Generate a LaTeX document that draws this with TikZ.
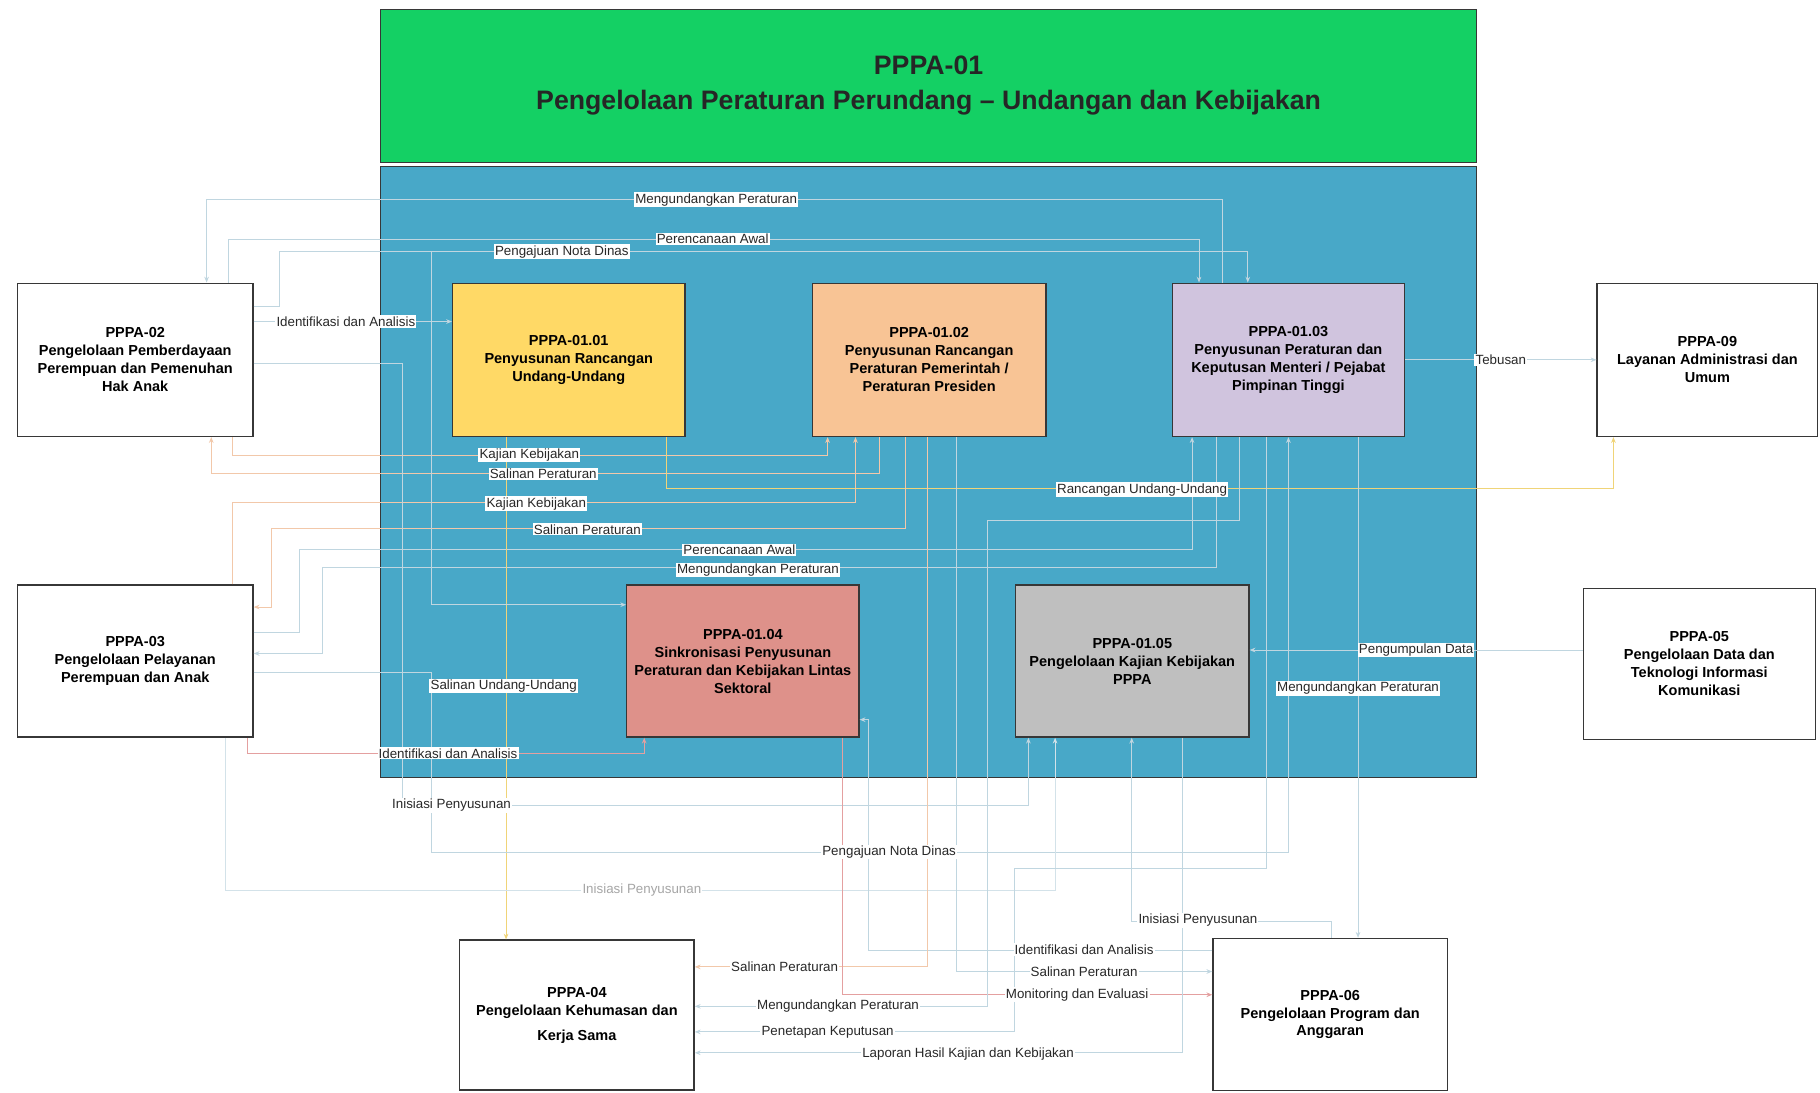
\documentclass[tikz,border=0pt]{standalone}
\usepackage{fontspec}
\setmainfont{Liberation Sans}
\usetikzlibrary{arrows.meta}
\definecolor{hdrgreen}{RGB}{20,208,100}
\definecolor{contblue}{RGB}{72,168,200}
\definecolor{cyellow}{RGB}{255,217,102}
\definecolor{cpeach}{RGB}{248,196,149}
\definecolor{clav}{RGB}{208,196,222}
\definecolor{csalmon}{RGB}{222,145,138}
\definecolor{cgray}{RGB}{191,191,191}
\definecolor{bordc}{RGB}{55,55,55}
\definecolor{lnA}{RGB}{192,214,224}
\definecolor{lnO}{RGB}{242,200,170}
\definecolor{lnY}{RGB}{240,212,120}
\definecolor{lnR}{RGB}{228,160,160}
\definecolor{txtc}{RGB}{40,40,40}
\begin{document}
\begin{tikzpicture}[x=1pt,y=-1pt,
  box/.style={draw=bordc,line width=1.2pt,align=center,inner sep=2pt,
    font=\fontsize{12.5}{15.5}\selectfont\bfseries,text=black},
  conn/.style={line width=0.8pt,-{Stealth[length=5pt,width=4pt]}},
  lbl/.style={fill=white,inner sep=1pt,font=\fontsize{11.5}{12}\selectfont,text=txtc},
  flbl/.style={fill=white,inner sep=1pt,font=\fontsize{11.5}{12}\selectfont,text=black!35}]
\fill[white] (0,0) rectangle (1568,941);
\useasboundingbox (0,0) rectangle (1568,941);

% header and container
\node[draw=bordc,line width=0.8pt,fill=hdrgreen,minimum width=944pt,minimum height=132pt,
  align=center,font=\fontsize{23}{30}\selectfont\bfseries,text=black!85] (hdr) at (800,74)
  {PPPA-01\\Pengelolaan Peraturan Perundang -- Undangan dan Kebijakan};
\node[draw=bordc,line width=0.8pt,fill=contblue,minimum width=944pt,minimum height=527pt] (cont) at (800,406.5) {};

% inner boxes
\node[box,fill=cyellow,minimum width=200pt,minimum height=132pt] (b0101) at (490,310)
  {PPPA-01.01\\Penyusunan Rancangan\\Undang-Undang};
\node[box,fill=cpeach,minimum width=201pt,minimum height=132pt] (b0102) at (800.5,310)
  {PPPA-01.02\\Penyusunan Rancangan\\Peraturan Pemerintah /\\Peraturan Presiden};
\node[box,fill=clav,minimum width=200pt,minimum height=132pt] (b0103) at (1110,310)
  {PPPA-01.03\\Penyusunan Peraturan dan\\Keputusan Menteri / Pejabat\\Pimpinan Tinggi};
\node[box,fill=csalmon,minimum width=200pt,minimum height=131pt] (b0104) at (640,569.5)
  {PPPA-01.04\\Sinkronisasi Penyusunan\\Peraturan dan Kebijakan Lintas\\Sektoral};
\node[box,fill=cgray,minimum width=201pt,minimum height=131pt] (b0105) at (975.5,569.5)
  {PPPA-01.05\\Pengelolaan Kajian Kebijakan\\PPPA};

% outer boxes
\node[box,fill=white,minimum width=203pt,minimum height=132pt] (p02) at (116.5,310)
  {PPPA-02\\Pengelolaan Pemberdayaan\\Perempuan dan Pemenuhan\\Hak Anak};
\node[box,fill=white,minimum width=203pt,minimum height=131pt] (p03) at (116.5,569.5)
  {PPPA-03\\Pengelolaan Pelayanan\\Perempuan dan Anak};
\node[box,fill=white,minimum width=190pt,minimum height=132pt] (p09) at (1471,310)
  {PPPA-09\\Layanan Administrasi dan\\Umum};
\node[box,fill=white,minimum width=200pt,minimum height=130pt] (p05) at (1464,572)
  {PPPA-05\\Pengelolaan Data dan\\Teknologi Informasi\\Komunikasi};
\node[box,fill=white,minimum width=202pt,minimum height=129pt] (p04) at (497,874.5)
  {PPPA-04\\Pengelolaan Kehumasan dan\\[6pt]Kerja Sama};
\node[box,fill=white,minimum width=202pt,minimum height=131pt] (p06) at (1146,874)
  {PPPA-06\\Pengelolaan Program dan\\Anggaran};

\coordinate (j1) at (372,217);

% connectors
\draw[conn,lnA] (1053,0 |- b0103.north) -- (1053,172) -- (178,172) -- (178,0 |- p02.north);
\draw[conn,lnA] (197,0 |- p02.north) -- (197,206) -- (1033,206) -- (1033,0 |- b0103.north);
\draw[conn,lnA] (p02.east |- 0,264) -- (241,264) -- (241,217) -- (1075,217) -- (1075,0 |- b0103.north);
\draw[conn,lnA] (p02.east |- 0,277) -- (b0101.west |- 0,277);
\draw[conn,lnO] (200,0 |- p02.south) -- (200,392) -- (713,392) -- (713,0 |- b0102.south);
\draw[conn,lnO] (758,0 |- b0102.south) -- (758,408) -- (182,408) -- (182,0 |- p02.south);
\draw[conn,lnY] (574,0 |- b0101.south) -- (574,421) -- (1390,421) -- (1390,0 |- p09.south);
\draw[conn,lnO] (200,0 |- p03.north) -- (200,433) -- (737,433) -- (737,0 |- b0102.south);
\draw[conn,lnO] (780,0 |- b0102.south) -- (780,455) -- (234,455) -- (234,523) -- (p03.east |- 0,523);
\draw[conn,lnA] (p03.east |- 0,545) -- (258,545) -- (258,473) -- (1027,473) -- (1027,0 |- b0103.south);
\draw[conn,lnA] (1048,0 |- b0103.south) -- (1048,489) -- (278,489) -- (278,563) -- (p03.east |- 0,563);
\draw[conn,lnA] (b0103.east) -- (p09.west);
\draw[conn,lnA] (p05.west |- 0,560) -- (b0105.east |- 0,560);
\draw[conn,lnA] (1170,0 |- b0103.south) -- (1170,0 |- p06.north);
\draw[conn,lnY] (436,0 |- b0101.south) -- (436,0 |- p04.north);
\draw[conn,lnR] (213,0 |- p03.south) -- (213,649) -- (555,649) -- (555,0 |- b0104.south);
\draw[conn,lnA] (p02.east |- 0,313) -- (347,313) -- (347,694) -- (886,694) -- (886,0 |- b0105.south);
\draw[conn,lnA] (p03.east |- 0,579) -- (372,579) -- (372,734) -- (1110,734) -- (1110,0 |- b0103.south);
\draw[conn,lnA] (j1) -- (372,521) -- (b0104.west |- 0,521);
\draw[conn,lnA!70] (194,0 |- p03.south) -- (194,767) -- (909,767) -- (909,0 |- b0105.south);
\draw[conn,lnA] (1147,0 |- p06.north) -- (1147,794) -- (975,794) -- (975,0 |- b0105.south);
\draw[conn,lnA] (p06.west |- 0,819) -- (748,819) -- (748,620) -- (b0104.east |- 0,620);
\draw[conn,lnO] (799,0 |- b0102.south) -- (799,833) -- (p04.east |- 0,833);
\draw[conn,lnA] (824,0 |- b0102.south) -- (824,837) -- (p06.west |- 0,837);
\draw[conn,lnR] (726,0 |- b0104.south) -- (726,857) -- (p06.west |- 0,857);
\draw[conn,lnA] (1068,0 |- b0103.south) -- (1068,448) -- (851,448) -- (851,867) -- (p04.east |- 0,867);
\draw[conn,lnA] (1091,0 |- b0103.south) -- (1091,748) -- (874,748) -- (874,889) -- (p04.east |- 0,889);
\draw[conn,lnA] (1019,0 |- b0105.south) -- (1019,907) -- (p04.east |- 0,907);

% labels
\node[lbl] (l1) at (617,172) {Mengundangkan Peraturan};
\node[lbl] (l2) at (614,206) {Perencanaan Awal};
\node[lbl] (l3) at (484,217) {Pengajuan Nota Dinas};
\node[lbl] (l4) at (298,277) {Identifikasi dan Analisis};
\node[lbl] (l5) at (456,392) {Kajian Kebijakan};
\node[lbl] (l6) at (468,408) {Salinan Peraturan};
\node[lbl] (l7) at (984,422) {Rancangan Undang-Undang};
\node[lbl] (l8) at (462,434) {Kajian Kebijakan};
\node[lbl] (l9) at (506,456) {Salinan Peraturan};
\node[lbl] (l10) at (637,474) {Perencanaan Awal};
\node[lbl] (l11) at (653,491) {Mengundangkan Peraturan};
\node[lbl] (l12) at (1293,310) {Tebusan};
\node[lbl] (l13) at (1220,560) {Pengumpulan Data};
\node[lbl] (l14) at (1170,593) {Mengundangkan Peraturan};
\node[lbl] (l15) at (434,591) {Salinan Undang-Undang};
\node[lbl] (l16) at (386,649) {Identifikasi dan Analisis};
\node[lbl] (l17) at (389,694) {Inisiasi Penyusunan};
\node[lbl] (l18) at (766,734) {Pengajuan Nota Dinas};
\node[flbl] (l19) at (553,767) {Inisiasi Penyusunan};
\node[lbl] (l20) at (1032,793) {Inisiasi Penyusunan};
\node[lbl] (l21) at (934,818) {Identifikasi dan Analisis};
\node[lbl] (l22) at (676,833) {Salinan Peraturan};
\node[lbl] (l23) at (934,837) {Salinan Peraturan};
\node[lbl] (l24) at (722,867) {Mengundangkan Peraturan};
\node[lbl] (l25) at (928,857) {Monitoring dan Evaluasi};
\node[lbl] (l26) at (713,889) {Penetapan Keputusan};
\node[lbl] (l27) at (834,908) {Laporan Hasil Kajian dan Kebijakan};
\end{tikzpicture}
\end{document}
